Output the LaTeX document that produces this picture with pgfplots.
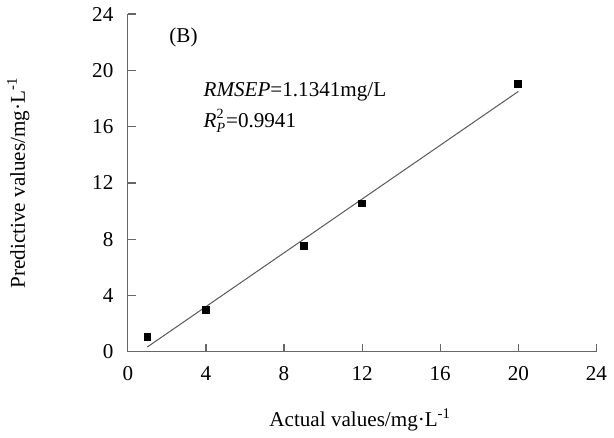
\documentclass[border=0pt]{standalone}
\usepackage{pgfplots}
\pgfplotsset{compat=1.18}
\usepackage{fontspec}
\setmainfont{Liberation Serif}

\begin{document}
\fontsize{10.5}{12}\selectfont
\begin{tikzpicture}
\begin{axis}[
    scale only axis,
    width=233pt, height=168pt,
    xmin=0, xmax=24, ymin=0, ymax=24,
    xtick={0,4,...,24}, ytick={0,4,...,24},
    axis x line=bottom, axis y line=left,
    axis line style={-, gray!80!black, line width=0.6pt},
    tick style={gray!80!black, line width=0.6pt},
    tick align=inside,
    major tick length=4pt,
    xticklabel shift=3.5pt, yticklabel shift=3.5pt,
    /pgf/number format/assume math mode=true,
    tick label style={font=\fontsize{10.5}{12}\selectfont},
    label style={font=\fontsize{10.5}{12}\selectfont},
    xlabel={Actual values/mg·L\textsuperscript{-1}},
    ylabel={Predictive values/mg·L\textsuperscript{-1}},
    xlabel style={at={(axis description cs:0.496,-0.2)}, anchor=center},
    ylabel style={at={(axis description cs:-0.234,0.5)}, anchor=center},
    clip=false,
]
% regression line
\addplot[gray!70!black, line width=0.5pt] coordinates {(1,0.35) (20,18.5)};
% samples
\addplot[only marks, mark=square*, mark size=1.7pt, black] coordinates {
    (1,1.07) (4,3.0) (9,7.5) (12,10.55) (20,19.05)
};
\node[anchor=west] at (axis cs:1.75,22.35) {(B)};
\node[anchor=west] at (axis cs:3.5,18.45) {\textit{RMSEP}=1.1341mg/L};
\node[anchor=west] at (axis cs:3.5,16.4) {$\mbox{\textit{R}}^{\mbox{\fontsize{7}{8}\selectfont 2}}_{\mbox{\fontsize{7}{8}\selectfont\textit{P}}}$=0.9941};
\end{axis}
\end{tikzpicture}
\end{document}
